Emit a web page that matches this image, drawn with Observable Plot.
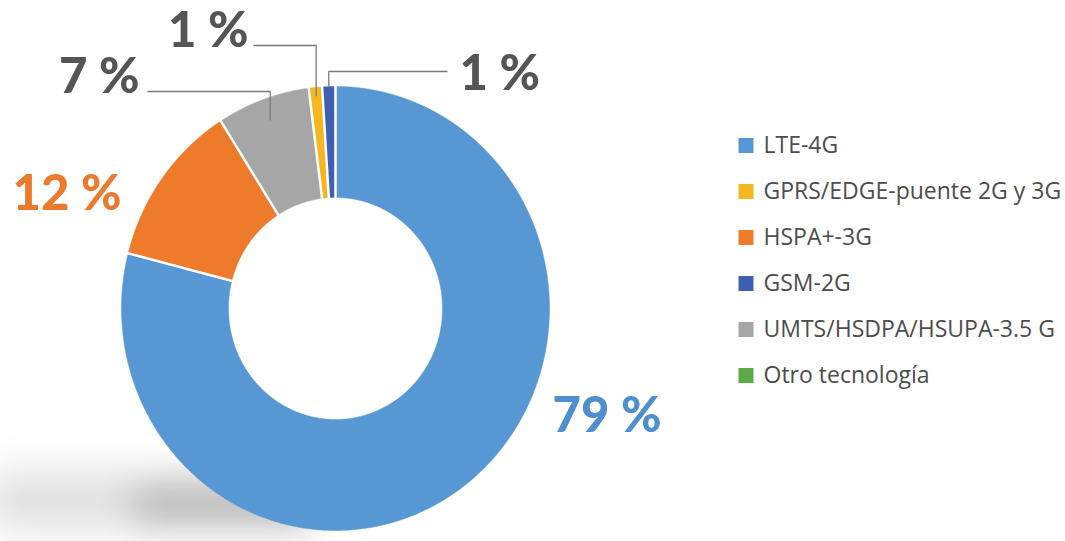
<!DOCTYPE html>
<html>
<head>
<meta charset="utf-8">
<script src="https://cdn.jsdelivr.net/npm/d3@7"></script>
<script src="https://cdn.jsdelivr.net/npm/@observablehq/plot@0.6"></script>
<style>
  body { margin: 0; background: #fff; }
  #wrap { position: relative; width: 1065px; height: 541px; overflow: hidden; background: #fff; }
  #chart, #legend { position: absolute; }
  #chart { left: 0; top: 0; }
  #legend { left: 730px; top: 128px; }
</style>
</head>
<body>
<div id="wrap"><div id="chart"></div><div id="legend"></div></div>
<script>
// ---- data ----
const categories = ["LTE-4G", "GPRS/EDGE-puente 2G y 3G", "HSPA+-3G", "GSM-2G", "UMTS/HSDPA/HSUPA-3.5 G", "Otro tecnología"];
const shares = [79, 1, 12, 1, 7, 0];
const shareLabels = ["79 %", "1 %", "12 %", "1 %", "7 %", ""];
const clockwiseOrder = ["LTE-4G", "HSPA+-3G", "UMTS/HSDPA/HSUPA-3.5 G", "GPRS/EDGE-puente 2G y 3G", "GSM-2G", "Otro tecnología"];
const colors = ["#5798d4", "#f4b71e", "#ee7a2c", "#3f5fb3", "#a6a6a6", "#5aab47"];

// ---- layout (pixels) ----
const W = 1065, H = 541, CX = 335, CY = 308, RX = 214, RY = 222, INNER = 0.5;
const ux = px => (px - CX) / RX;
const uy = py => (CY - py) / RY;
const labelLayout = {
  "LTE-4G": {x: 552, y: 416, anchor: "start", color: "#4d8fcf"},
  "HSPA+-3G": {x: 121, y: 194, anchor: "end", color: "#ec7a2e"},
  "UMTS/HSDPA/HSUPA-3.5 G": {x: 139, y: 77, anchor: "end", color: "#555555", rs: 0.9, elbowY: 91, endX: 147},
  "GPRS/EDGE-puente 2G y 3G": {x: 248, y: 31, anchor: "end", color: "#555555", rs: 0.96, elbowY: 45, endX: 253},
  "GSM-2G": {x: 459, y: 74, anchor: "start", color: "#555555", rs: 1.0, elbowY: 71, endX: 447}
};

const table = categories.map((c, i) => ({name: c, share: shares[i], label: shareLabels[i]}));
const ordered = clockwiseOrder.map(n => table.find(d => d.name === n));
const arcs = d3.pie().sort(null).value(d => d.share)(ordered);

// ring polygons (outer arc forward, inner arc back) + white separators
const ring = [];
const seps = [];
for (const a of arcs) {
  const span = a.endAngle - a.startAngle;
  if (span <= 0) continue;
  const n = Math.max(2, Math.ceil(span / 0.005));
  for (let k = 0; k <= n; k++) {
    const t = a.startAngle + span * k / n;
    ring.push({name: a.data.name, x: Math.sin(t), y: Math.cos(t)});
  }
  for (let k = n; k >= 0; k--) {
    const t = a.startAngle + span * k / n;
    ring.push({name: a.data.name, x: INNER * Math.sin(t), y: INNER * Math.cos(t)});
  }
  const t0 = a.startAngle;
  seps.push({x1: (INNER - 0.02) * Math.sin(t0), y1: (INNER - 0.02) * Math.cos(t0), x2: 1.02 * Math.sin(t0), y2: 1.02 * Math.cos(t0)});
}

// leader lines and labels
const leaders = [];
const labelRows = [];
for (const a of arcs) {
  const L = labelLayout[a.data.name];
  if (!L || !a.data.label) continue;
  const mid = (a.startAngle + a.endAngle) / 2;
  labelRows.push({name: a.data.name, text: a.data.label, x: ux(L.x), y: uy(L.y), anchor: L.anchor, color: L.color});
  if (L.rs !== undefined) {
    const sx = L.rs * Math.sin(mid), sy = L.rs * Math.cos(mid);
    leaders.push({name: a.data.name, x: sx, y: sy});
    leaders.push({name: a.data.name, x: sx, y: uy(L.elbowY)});
    leaders.push({name: a.data.name, x: ux(L.endX), y: uy(L.elbowY)});
  }
}

// soft floor shadow (decoration)
const shadowWide = [{x: ux(10), y: uy(500)}, {x: ux(290), y: uy(500)}];
const shadowCore = [{x: ux(150), y: uy(505)}, {x: ux(300), y: uy(505)}];

const chart = Plot.plot({
  width: W, height: H,
  marginTop: 0, marginRight: 0, marginBottom: 0, marginLeft: 0,
  x: {domain: [ux(0), ux(W)], axis: null},
  y: {domain: [uy(H), uy(0)], axis: null},
  color: {domain: categories, range: colors},
  style: {background: "transparent"},
  marks: [
    Plot.line(shadowWide, {x: "x", y: "y", stroke: "#000", strokeOpacity: 0.13, strokeWidth: 54, strokeLinecap: "round"}),
    Plot.line(shadowCore, {x: "x", y: "y", stroke: "#000", strokeOpacity: 0.16, strokeWidth: 40, strokeLinecap: "round"}),
    Plot.line(ring, {x: "x", y: "y", z: "name", fill: "name", stroke: "name", strokeWidth: 0.5, curve: "linear-closed"}),
    Plot.link(seps, {x1: "x1", y1: "y1", x2: "x2", y2: "y2", stroke: "white", strokeWidth: 2.5}),
    Plot.line(leaders, {x: "x", y: "y", z: "name", stroke: "#7a7a7a", strokeWidth: 1.3, strokeLinecap: "butt"}),
    ...labelRows.map(r => Plot.text([r], {
      x: "x", y: "y", text: "text", textAnchor: r.anchor, lineAnchor: "middle",
      fill: r.color, fontSize: 49, fontWeight: 900, fontFamily: "Lato"
    }))
  ]
});
const lineGroups = chart.querySelectorAll('g[aria-label="line"]');
if (lineGroups.length > 1) {
  lineGroups[0].style.filter = "blur(20px)";
  lineGroups[1].style.filter = "blur(16px)";
}
document.getElementById("chart").appendChild(chart);

const legend = Plot.plot({
  width: 335, height: 262,
  marginTop: 0, marginRight: 0, marginBottom: 0, marginLeft: 0,
  y: {type: "point", domain: categories, range: [17, 247], padding: 0, axis: null},
  color: {domain: categories, range: colors},
  style: {background: "transparent"},
  marks: [
    Plot.dot(categories, {y: d => d, frameAnchor: "left", dx: 15.5, symbol: "square", r: 15 / Math.sqrt(Math.PI), fill: d => d, stroke: "none"}),
    Plot.text(categories, {y: d => d, text: d => d, frameAnchor: "left", dx: 33, textAnchor: "start", lineAnchor: "middle", fontSize: 23, fontFamily: "Open Sans", fill: "#4d4d4d"})
  ]
});
document.getElementById("legend").appendChild(legend);
</script>
</body>
</html>
